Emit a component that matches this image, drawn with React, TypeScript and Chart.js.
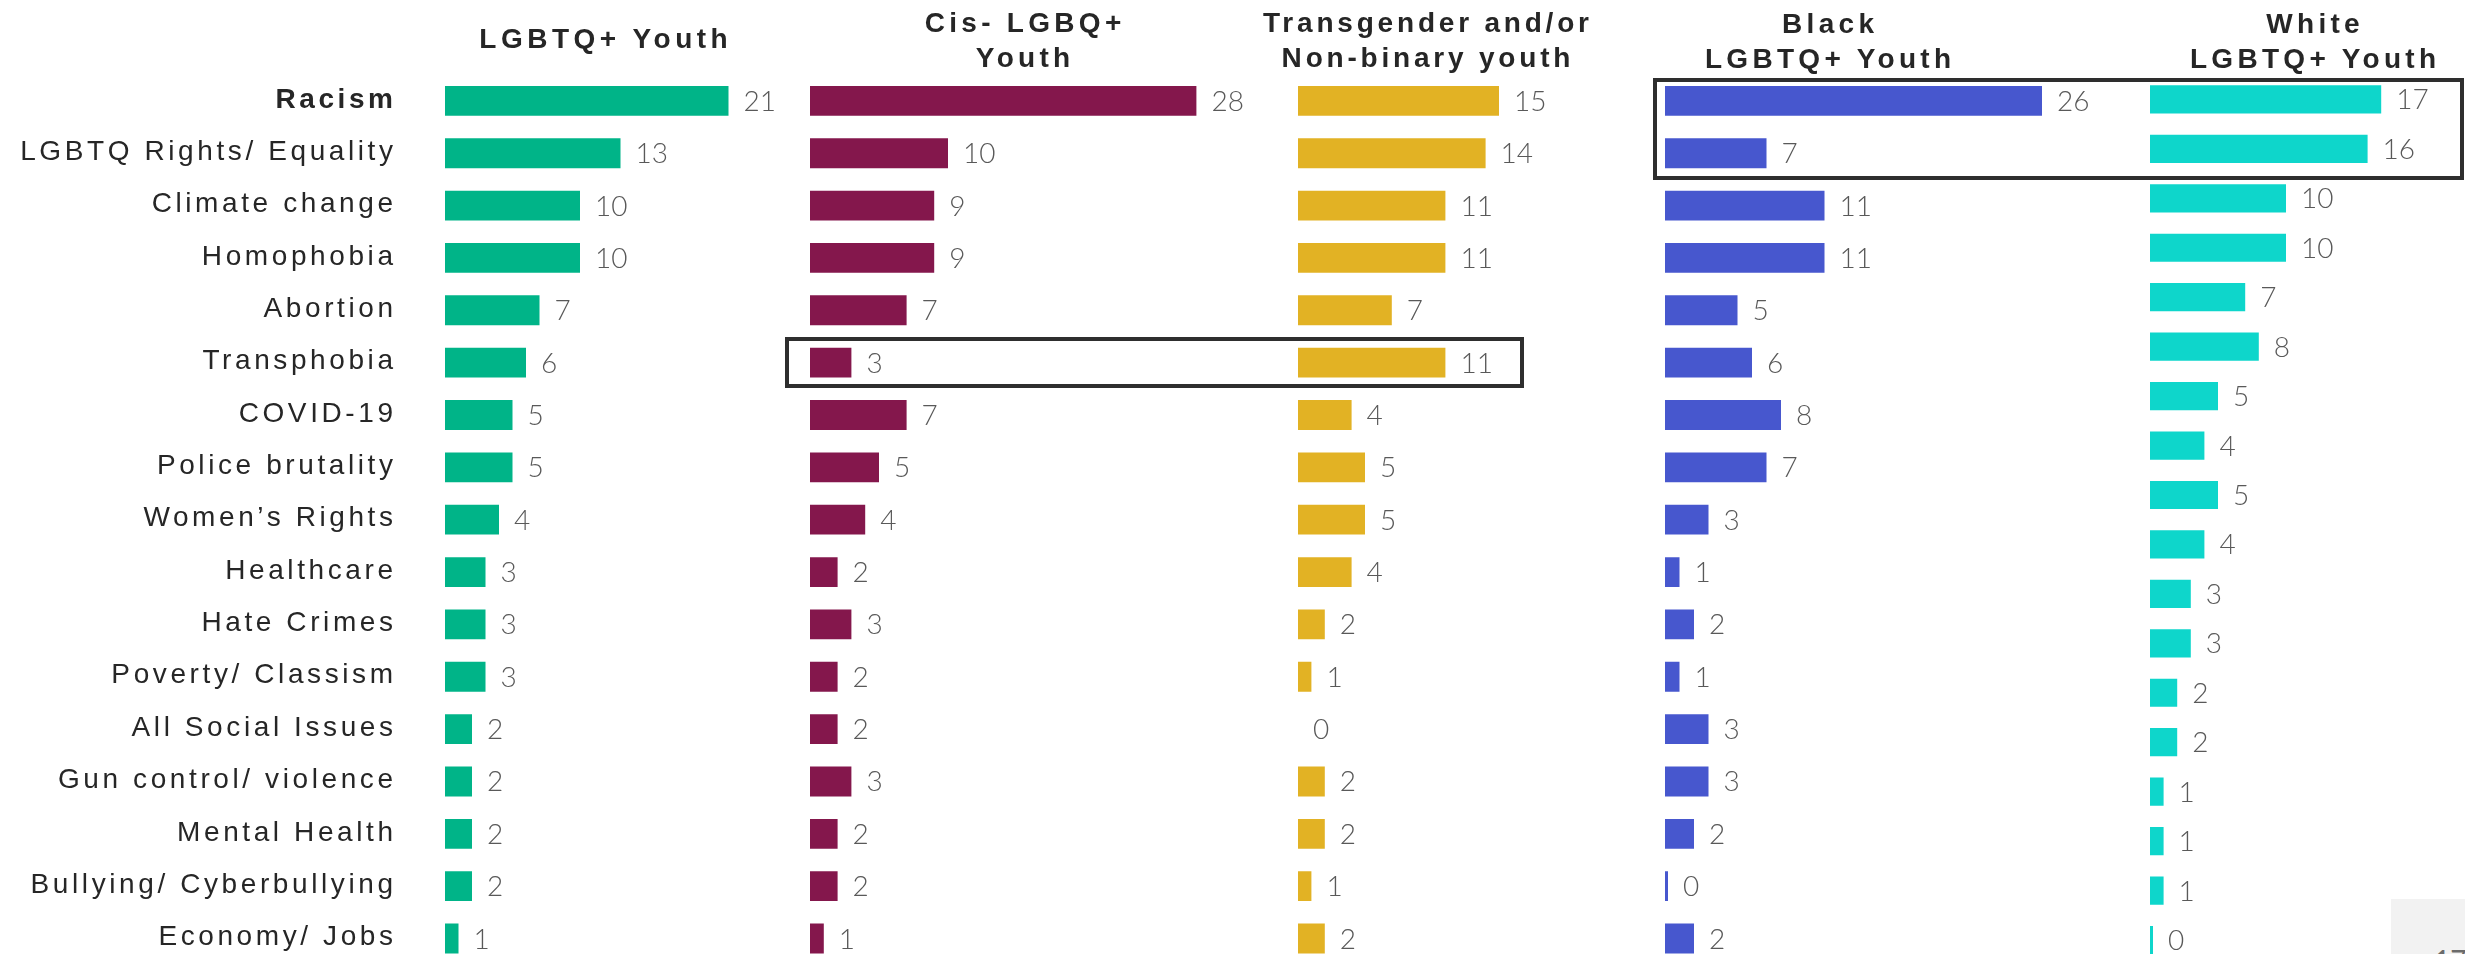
import React, { useEffect, useRef } from "react";
import { Chart, registerables } from "chart.js";

Chart.register(...registerables);

// ---------------- data ----------------
const categories = [
  "Racism",
  "LGBTQ Rights/ Equality",
  "Climate change",
  "Homophobia",
  "Abortion",
  "Transphobia",
  "COVID-19",
  "Police brutality",
  "Women’s Rights",
  "Healthcare",
  "Hate Crimes",
  "Poverty/ Classism",
  "All Social Issues",
  "Gun control/ violence",
  "Mental Health",
  "Bullying/ Cyberbullying",
  "Economy/ Jobs",
];

// The White panel in the source shows 18 bars (one more row than the label column)
const whiteRowLabels = [...categories, "Other"];

const lgbtqYouth = [21, 13, 10, 10, 7, 6, 5, 5, 4, 3, 3, 3, 2, 2, 2, 2, 1];
const cisLgbqYouth = [28, 10, 9, 9, 7, 3, 7, 5, 4, 2, 3, 2, 2, 3, 2, 2, 1];
const transNbYouth = [15, 14, 11, 11, 7, 11, 4, 5, 5, 4, 2, 1, 0, 2, 2, 1, 2];
const blackYouth = [26, 7, 11, 11, 5, 6, 8, 7, 3, 1, 2, 1, 3, 3, 2, 0, 2];
const whiteYouth = [17, 16, 10, 10, 7, 8, 5, 4, 5, 4, 3, 3, 2, 2, 1, 1, 1, 0];

const titleLgbtq = ["LGBTQ+ Youth"];
const titleCis = ["Cis- LGBQ+", "Youth"];
const titleTrans = ["Transgender and/or", "Non-binary youth"];
const titleBlack = ["Black", "LGBTQ+ Youth"];
const titleWhite = ["White", "LGBTQ+ Youth"];

// ---------------- layout ----------------
const CANVAS_H = 1000;
const PLOT_TOP = 74.7;
const PLOT_BOTTOM = 964.7;
const X_MAX = 30;
const RIGHT_PAD = 70;
const LABEL_AXIS_W = 445;
const LABEL_RIGHT = 393;
const LABEL_SPACING = 3.6;

const LABEL_FONT = "'Liberation Sans', Arial, sans-serif";
const VALUE_FONT = "Lato, 'Open Sans', sans-serif";

type Panel = {
  key: string;
  labels: string[];
  values: number[];
  color: string;
  left: number; // canvas left
  axisW: number;
  ppu: number;
  minBar: number;
  showLabels: boolean;
};

const panels: Panel[] = [
  { key: "lgbtq", labels: categories, values: lgbtqYouth, color: "#00B488", left: 0, axisW: LABEL_AXIS_W, ppu: 13.5, minBar: 0, showLabels: true },
  { key: "cis", labels: categories, values: cisLgbqYouth, color: "#84174C", left: 810, axisW: 0, ppu: 13.8, minBar: 0, showLabels: false },
  { key: "trans", labels: categories, values: transNbYouth, color: "#E2B224", left: 1297.6, axisW: 0, ppu: 13.4, minBar: 0, showLabels: false },
  { key: "black", labels: categories, values: blackYouth, color: "#4757CE", left: 1664.7, axisW: 0, ppu: 14.5, minBar: 3, showLabels: false },
  { key: "white", labels: whiteRowLabels, values: whiteYouth, color: "#0ED6CB", left: 2150.4, axisW: 0, ppu: 13.6, minBar: 3, showLabels: false },
];

const valueLabelPlugin = {
  id: "valueLabels",
  afterDatasetsDraw(chart: any) {
    const ctx = chart.ctx;
    ctx.save();
    ctx.letterSpacing = "0px";
    ctx.font = `300 28px ${VALUE_FONT}`;
    ctx.fillStyle = "#595959";
    ctx.textAlign = "left";
    ctx.textBaseline = "middle";
    const meta = chart.getDatasetMeta(0);
    const data = chart.data.datasets[0].data;
    meta.data.forEach((el: any, i: number) => {
      ctx.fillText(String(data[i]), el.x + 15, el.y + 1);
    });
    ctx.restore();
  },
};

// Category labels drawn at the y scale's own tick positions (panel 1 only)
const categoryLabelPlugin = {
  id: "categoryLabels",
  afterDraw(chart: any) {
    const ctx = chart.ctx;
    const y = chart.scales.y;
    ctx.save();
    ctx.letterSpacing = `${LABEL_SPACING}px`;
    ctx.fillStyle = "#262626";
    ctx.textAlign = "right";
    ctx.textBaseline = "middle";
    chart.data.labels.forEach((lab: string, i: number) => {
      ctx.font = `${i === 0 ? "bold " : ""}28px ${LABEL_FONT}`;
      ctx.fillText(lab, LABEL_RIGHT + LABEL_SPACING, y.getPixelForValue(i) - 1);
    });
    ctx.restore();
  },
};

function BarPanel({ p }: { p: Panel }) {
  const ref = useRef<HTMLCanvasElement | null>(null);
  const width = Math.round(p.axisW + p.ppu * X_MAX + RIGHT_PAD);
  useEffect(() => {
    if (!ref.current) return;
    const chart = new Chart(ref.current, {
      type: "bar",
      data: {
        labels: p.labels,
        datasets: [
          {
            data: p.values,
            backgroundColor: p.color,
            borderWidth: 0,
            barPercentage: 0.57,
            categoryPercentage: 1,
            minBarLength: p.minBar,
          },
        ],
      },
      options: {
        indexAxis: "y",
        animation: false,
        responsive: false,
        maintainAspectRatio: false,
        devicePixelRatio: 1,
        events: [],
        layout: {
          padding: { top: PLOT_TOP, bottom: CANVAS_H - PLOT_BOTTOM, left: p.axisW, right: RIGHT_PAD },
        },
        plugins: {
          legend: { display: false },
          tooltip: { enabled: false },
          title: { display: false },
        },
        scales: {
          x: { display: false, min: 0, max: X_MAX },
          y: { display: false },
        },
      } as any,
      plugins: p.showLabels ? [categoryLabelPlugin, valueLabelPlugin] : [valueLabelPlugin],
    });
    return () => chart.destroy();
  }, []);
  return (
    <canvas
      ref={ref}
      width={width}
      height={CANVAS_H}
      style={{ position: "absolute", left: p.left, top: 0, width, height: CANVAS_H }}
    />
  );
}

function Title({ lines, cx, top, spacing }: { lines: string[]; cx: number; top: number; spacing: number }) {
  return (
    <div
      style={{
        position: "absolute",
        left: cx,
        top,
        transform: "translateX(-50%)",
        textAlign: "center",
        whiteSpace: "nowrap",
        fontFamily: LABEL_FONT,
        fontWeight: "bold",
        fontSize: 28,
        lineHeight: "35px",
        letterSpacing: `${spacing}px`,
        paddingLeft: `${spacing}px`,
        color: "#262626",
      }}
    >
      {lines.map((l, i) => (
        <div key={i}>{l}</div>
      ))}
    </div>
  );
}

function Box({ left, top, right, bottom }: { left: number; top: number; right: number; bottom: number }) {
  return (
    <div
      style={{
        position: "absolute",
        left,
        top,
        width: right - left,
        height: bottom - top,
        border: "4px solid #2e2e2e",
        boxSizing: "border-box",
      }}
    />
  );
}

export default function App() {
  return (
    <div
      style={{
        position: "fixed",
        left: 0,
        top: 0,
        width: 2465,
        height: 954,
        overflow: "hidden",
        background: "#ffffff",
      }}
    >
      {panels.map((p) => (
        <BarPanel key={p.key} p={p} />
      ))}
      <Title lines={titleLgbtq} cx={603.5} top={21} spacing={4.5} />
      <Title lines={titleCis} cx={1023} top={5} spacing={4.3} />
      <Title lines={titleTrans} cx={1426} top={5} spacing={3.8} />
      <Title lines={titleBlack} cx={1828} top={6} spacing={4.3} />
      <Title lines={titleWhite} cx={2313} top={6} spacing={4.3} />
      <Box left={1653} top={77.5} right={2464} bottom={180} />
      <Box left={784.5} top={337.3} right={1524} bottom={387.7} />
      <div
        style={{
          position: "absolute",
          left: 2391,
          top: 899,
          width: 74,
          height: 60,
          background: "#f2f2f2",
        }}
      />
      <div
        style={{
          position: "absolute",
          left: 2434,
          top: 946,
          fontFamily: VALUE_FONT,
          fontSize: 28,
          lineHeight: "28px",
          color: "#6b6b6b",
        }}
      >
        17
      </div>
    </div>
  );
}
